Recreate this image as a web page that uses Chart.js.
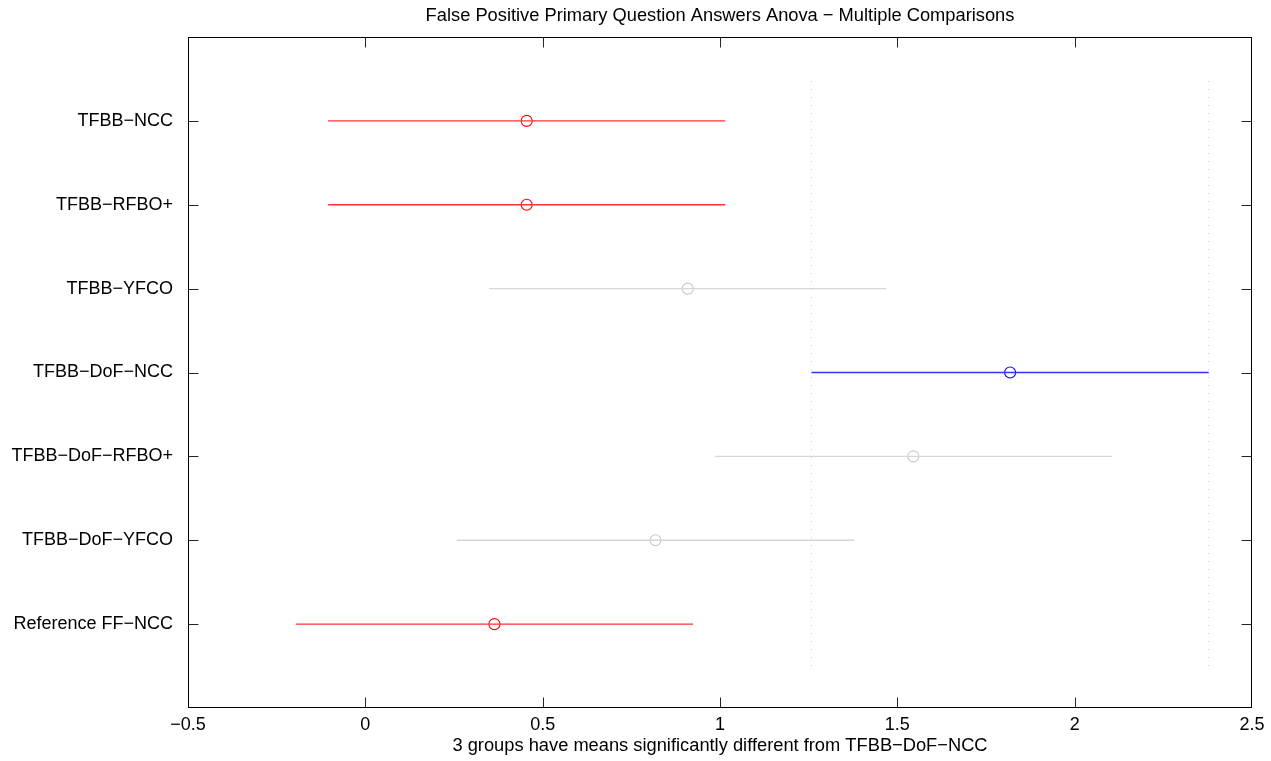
<!DOCTYPE html>
<html>
<head>
<meta charset="utf-8">
<title>False Positive Primary Question Answers Anova − Multiple Comparisons</title>
<script src="https://cdn.jsdelivr.net/npm/chart.js@4/dist/chart.umd.min.js"></script>
<style>
  html, body { margin: 0; padding: 0; background: #ffffff; }
  #wrap { width: 1271px; height: 761px; position: relative; }
</style>
</head>
<body>
<div id="wrap"><canvas id="chart"></canvas></div>
<script>
// Groups, listed top to bottom
const categories = ['TFBB−NCC', 'TFBB−RFBO+', 'TFBB−YFCO', 'TFBB−DoF−NCC', 'TFBB−DoF−RFBO+', 'TFBB−DoF−YFCO', 'Reference FF−NCC'];
// Group means and comparison interval bounds
const means       = [0.455, 0.455, 0.909, 1.818, 1.545, 0.818, 0.364];
const lowerBounds = [-0.105, -0.105, 0.349, 1.258, 0.985, 0.258, -0.196];
const upperBounds = [1.015, 1.015, 1.469, 2.378, 2.105, 1.378, 0.924];
// 'selected' = reference group, 'different' = significantly different, 'same' = not different
const status = ['different', 'different', 'same', 'selected', 'same', 'same', 'different'];
const xTicks = [-0.5, 0, 0.5, 1, 1.5, 2, 2.5];

const titleText = 'False Positive Primary Question Answers Anova − Multiple Comparisons';
const selectedIndex = status.indexOf('selected');
const diffCount = status.filter(s => s === 'different').length;
const xTitle = diffCount + ' groups have means significantly different from ' + categories[selectedIndex];

const lineColors = { selected: '#3333ff', different: '#ff3333', same: '#d6d6d6' };
const markColors = { selected: '#0000ff', different: '#ff0000', same: '#c8c8c8' };
const n = categories.length;
const yOf = i => n - i;

const fontFamily = '"Liberation Sans", Arial, Helvetica, sans-serif';
const fmt = v => {
  const s = String(Math.round(v * 10) / 10);
  return s.replace('-', '−');
};

const datasets = [];
// dotted limits of the selected group's interval
[lowerBounds[selectedIndex], upperBounds[selectedIndex]].forEach(xv => {
  datasets.push({
    type: 'line',
    data: [{ x: xv, y: 0.5 }, { x: xv, y: n + 0.5 }],
    borderColor: '#c8c8c8',
    borderWidth: 1,
    borderDash: [1, 7],
    pointRadius: 0,
    fill: false
  });
});
// interval lines
categories.forEach((c, i) => {
  datasets.push({
    type: 'line',
    data: [{ x: lowerBounds[i], y: yOf(i) }, { x: upperBounds[i], y: yOf(i) }],
    borderColor: lineColors[status[i]],
    borderWidth: 1.4,
    pointRadius: 0,
    fill: false
  });
});
// mean markers
datasets.push({
  type: 'scatter',
  data: means.map((m, i) => ({ x: m, y: yOf(i) })),
  pointStyle: 'circle',
  pointRadius: 5.5,
  pointBorderWidth: 1.1,
  pointBackgroundColor: 'rgba(0,0,0,0)',
  pointBorderColor: status.map(s => markColors[s])
});

// box, inward tick marks on all four sides, and the title centred over the axes
const boxPlugin = {
  id: 'boxTicks',
  afterDatasetsDraw(chart) {
    const { ctx, chartArea: a, scales } = chart;
    const L = Math.round(a.left) + 0.5, R = Math.round(a.right) - 0.5;
    const T = Math.round(a.top) + 0.5, B = Math.round(a.bottom) - 0.5;
    const len = 10;
    ctx.save();
    ctx.lineWidth = 1;
    ctx.strokeStyle = '#262626';
    ctx.beginPath();
    scales.x.ticks.forEach(t => {
      const px = Math.round(scales.x.getPixelForValue(t.value)) + 0.5;
      if (px <= L + 1 || px >= R - 1) return;
      ctx.moveTo(px, B); ctx.lineTo(px, B - len);
      ctx.moveTo(px, T); ctx.lineTo(px, T + len);
    });
    scales.y.ticks.forEach(t => {
      const py = Math.round(scales.y.getPixelForValue(t.value)) + 0.5;
      ctx.moveTo(L, py); ctx.lineTo(L + len, py);
      ctx.moveTo(R, py); ctx.lineTo(R - len, py);
    });
    ctx.stroke();
    ctx.strokeStyle = '#000000';
    ctx.strokeRect(L, T, R - L, B - T);

    ctx.fillStyle = '#000000';
    ctx.font = '18.3px ' + fontFamily;
    ctx.textAlign = 'center';
    ctx.textBaseline = 'middle';
    ctx.fillText(titleText, (a.left + a.right) / 2, 16);
    ctx.restore();
  }
};

Chart.defaults.font.family = fontFamily;
Chart.defaults.color = '#000000';

new Chart(document.getElementById('chart'), {
  data: { datasets },
  options: {
    responsive: true,
    maintainAspectRatio: false,
    animation: false,
    layout: { padding: { left: 0, right: 19, top: 37, bottom: 0 } },
    plugins: {
      legend: { display: false },
      tooltip: { enabled: false },
      title: { display: false }
    },
    scales: {
      x: {
        type: 'linear',
        min: -0.5,
        max: 2.5,
        afterBuildTicks: s => { s.ticks = xTicks.map(v => ({ value: v })); },
        afterFit: s => { s.height = 53; },
        grid: { display: false },
        border: { display: false },
        ticks: {
          callback: v => fmt(v),
          font: { size: 18 },
          color: '#000000',
          padding: -2,
          maxRotation: 0
        },
        title: {
          display: true,
          text: xTitle,
          font: { size: 18.3 },
          color: '#000000',
          padding: { top: 0, bottom: 4 }
        }
      },
      y: {
        type: 'linear',
        min: 0,
        max: n + 1,
        afterBuildTicks: s => { s.ticks = categories.map((c, i) => ({ value: yOf(i) })); },
        afterFit: s => { s.width = 188; },
        grid: { display: false },
        border: { display: false },
        ticks: {
          callback: v => categories[n - v],
          font: { size: 18 },
          color: '#000000',
          padding: 7
        }
      }
    }
  },
  plugins: [boxPlugin]
});
</script>
</body>
</html>
